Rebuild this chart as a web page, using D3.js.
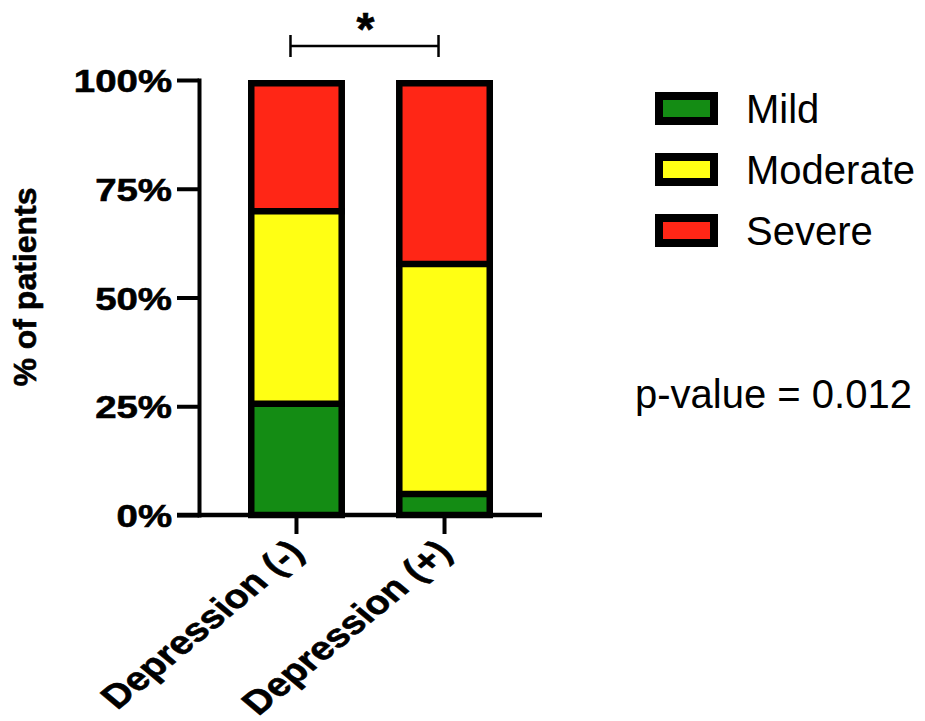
<!DOCTYPE html>
<html>
<head>
<meta charset="utf-8">
<script src="https://cdn.jsdelivr.net/npm/d3@7"></script>
<style>
body { margin: 0; background: #fff; }
text { font-family: "Liberation Sans", Arial, Helvetica, sans-serif; fill: #000; }
.heavy { font-weight: bold; stroke: #000; stroke-width: 0.6px; }
</style>
</head>
<body>
<script>
const groups = ["Depression (-)", "Depression (+)"];
const severities = ["Mild", "Moderate", "Severe"];
const mildValues = [25.6, 4.8];
const moderateValues = [44.2, 52.9];
const severeValues = [30.2, 42.3];
const yTicks = [0, 25, 50, 75, 100];
const severityColors = ["#148c14", "#ffff14", "#ff2616"];
const pValueText = "p-value = 0.012";
const sigText = "*";

const width = 925;
const height = 721;

const svg = d3.select("body")
    .append("svg")
    .attr("width", width)
    .attr("height", height);

const y = d3.scaleLinear().domain([0, 100]).range([515, 80]);
const x = d3.scaleBand().domain(groups).range([248, 493]).paddingInner(0.345);
const color = d3.scaleOrdinal().domain(severities).range(severityColors);
const bw = x.bandwidth();
const axisX = 199;
const border = 6.5;

const rows = groups.map((g, i) => ({
    group: g,
    Mild: mildValues[i],
    Moderate: moderateValues[i],
    Severe: severeValues[i],
}));
const stacked = d3.stack().keys(severities)(rows);

// segment fills
svg.selectAll(".layer")
    .data(stacked)
    .enter()
    .append("g")
    .attr("fill", (d) => color(d.key))
    .selectAll("rect")
    .data((d) => d)
    .enter()
    .append("rect")
    .attr("x", (d) => x(d.data.group))
    .attr("width", bw)
    .attr("y", (d) => y(d[1]))
    .attr("height", (d) => y(d[0]) - y(d[1]));

// borders between segments
svg.selectAll(".seg-line")
    .data(stacked.slice(0, -1).flatMap((layer) => layer))
    .enter()
    .append("line")
    .attr("x1", (d) => x(d.data.group))
    .attr("x2", (d) => x(d.data.group) + bw)
    .attr("y1", (d) => y(d[1]))
    .attr("y2", (d) => y(d[1]))
    .attr("stroke", "#000")
    .attr("stroke-width", border);

// outer border of each bar, drawn inside the bar
svg.selectAll(".bar-outline")
    .data(rows)
    .enter()
    .append("rect")
    .attr("x", (d) => x(d.group) + border / 2)
    .attr("y", y(100) + border / 2)
    .attr("width", bw - border)
    .attr("height", y(0) - y(100) - border / 2)
    .attr("fill", "none")
    .attr("stroke", "#000")
    .attr("stroke-width", border);

// y axis
const yAxis = svg.append("g")
    .attr("transform", `translate(${axisX},0)`)
    .call(d3.axisLeft(y).tickValues(yTicks).tickSize(22).tickSizeOuter(0).tickFormat((d) => d + "%"));
yAxis.select(".domain").attr("stroke-width", 4).attr("stroke-linecap", "square");
yAxis.selectAll(".tick line").attr("stroke-width", 4);
yAxis.selectAll(".tick text")
    .attr("class", "heavy")
    .attr("x", -27 / 1.2)
    .attr("dy", "0.36em")
    .attr("transform", "scale(1.2,1)")
    .style("font-size", "32px")
    .attr("fill", "#000");

// x axis
const xAxis = svg.append("g")
    .attr("transform", `translate(0,${y(0)})`)
    .call(d3.axisBottom(x).tickSize(19).tickSizeOuter(0));
xAxis.select(".domain").remove();
xAxis.selectAll(".tick line").attr("stroke-width", 4);
xAxis.selectAll(".tick text").remove();
xAxis.append("line")
    .attr("x1", axisX - 22)
    .attr("x2", x.range()[1] + (x.range()[0] - axisX))
    .attr("stroke", "#000")
    .attr("stroke-width", 4.5);

svg.selectAll(".x-label")
    .data(groups)
    .enter()
    .append("text")
    .attr("class", "heavy")
    .attr("transform", (d) => `translate(${x(d) + bw / 2 + 9},554) scale(1.2,1) rotate(-45)`)
    .attr("text-anchor", "end")
    .style("font-size", "33px")
    .text((d) => d);

// y axis title
svg.append("text")
    .attr("class", "heavy")
    .attr("transform", "translate(36,287) rotate(-90)")
    .attr("text-anchor", "middle")
    .style("font-size", "32px")
    .text("% of patients");

// significance bracket
const bx1 = x(groups[0]) + bw / 2 - 6;
const bx2 = x(groups[1]) + bw / 2 - 6;
const bracket = svg.append("g")
    .attr("stroke", "#000")
    .attr("stroke-width", 2.5);
bracket.append("line").attr("x1", bx1).attr("x2", bx2).attr("y1", 46).attr("y2", 46);
bracket.append("line").attr("x1", bx1).attr("x2", bx1).attr("y1", 35).attr("y2", 57);
bracket.append("line").attr("x1", bx2).attr("x2", bx2).attr("y1", 35).attr("y2", 57);
svg.append("text")
    .attr("class", "heavy")
    .attr("x", (bx1 + bx2) / 2 + 1)
    .attr("y", 45)
    .attr("text-anchor", "middle")
    .style("font-size", "46px")
    .text(sigText);

// legend
const legend = svg.selectAll(".legend")
    .data(severities)
    .enter()
    .append("g")
    .attr("transform", (d, i) => `translate(0,${i * 61})`);
legend.append("rect")
    .attr("x", 659)
    .attr("y", 96)
    .attr("width", 55)
    .attr("height", 25)
    .attr("fill", (d) => color(d))
    .attr("stroke", "#000")
    .attr("stroke-width", 8);
legend.append("text")
    .attr("x", 746)
    .attr("y", 123)
    .style("font-size", "40px")
    .text((d) => d);

svg.append("text")
    .attr("x", 635)
    .attr("y", 408)
    .style("font-size", "40px")
    .text(pValueText);
</script>
</body>
</html>
